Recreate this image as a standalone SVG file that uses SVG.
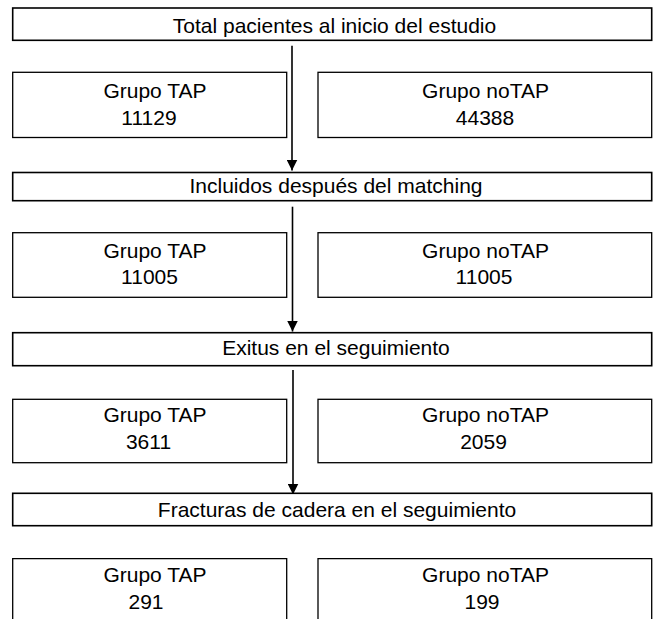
<svg xmlns="http://www.w3.org/2000/svg" width="654" height="619" viewBox="0 0 654 619">
<style>
.hdr{fill:#fff;stroke:#000;stroke-width:1.6}
.box{fill:#fff;stroke:#000;stroke-width:1.3}
text{font-family:"Liberation Sans",Arial,sans-serif;font-size:21px;fill:#000;text-anchor:middle}
.conn{stroke:#000;stroke-width:1.6;fill:none}
</style>
<defs>
<marker id="arr" markerWidth="11" markerHeight="11" refX="11" refY="5.5" orient="auto" markerUnits="userSpaceOnUse">
<path d="M0,0 L11,5.5 L0,11 Z" fill="#000"/>
</marker>
</defs>
<rect width="654" height="619" fill="#fff"/>
<g id="connectors">
<line class="conn" x1="292" y1="45.7" x2="292" y2="170.5" marker-end="url(#arr)"/>
<line class="conn" x1="292.5" y1="206.7" x2="292.5" y2="331.5" marker-end="url(#arr)"/>
<line class="conn" x1="293" y1="370" x2="293" y2="494.5" marker-end="url(#arr)"/>
</g>
<g id="h1"><rect class="hdr" x="12.7" y="8" width="639" height="32.3"/><text x="334.5" y="33">Total pacientes al inicio del estudio</text></g>
<g id="tap1"><rect class="box" x="12.7" y="72.3" width="274" height="65.2"/><text x="155" y="97.7">Grupo TAP</text><text x="149" y="125">11129</text></g>
<g id="notap1"><rect class="box" x="318" y="72.3" width="333.7" height="65.2"/><text x="485.5" y="97.7">Grupo noTAP</text><text x="485" y="125">44388</text></g>
<g id="h2"><rect class="hdr" x="12.7" y="172.5" width="639" height="28.2"/><text x="336" y="193.3">Incluidos después del matching</text></g>
<g id="tap2"><rect class="box" x="12.7" y="232.7" width="274" height="64.6"/><text x="155" y="257.5">Grupo TAP</text><text x="149.5" y="284">11005</text></g>
<g id="notap2"><rect class="box" x="318" y="232.7" width="333.7" height="64.6"/><text x="485.5" y="257.5">Grupo noTAP</text><text x="484" y="284">11005</text></g>
<g id="h3"><rect class="hdr" x="12.7" y="332.7" width="639" height="33"/><text x="336" y="355">Exitus en el seguimiento</text></g>
<g id="tap3"><rect class="box" x="12.7" y="399.3" width="274" height="63.4"/><text x="155" y="422">Grupo TAP</text><text x="148.5" y="449">3611</text></g>
<g id="notap3"><rect class="box" x="318" y="399.3" width="333.7" height="63.4"/><text x="485.5" y="422">Grupo noTAP</text><text x="483.5" y="449">2059</text></g>
<g id="h4"><rect class="hdr" x="12.7" y="493.3" width="639" height="32.4"/><text x="337" y="516.7">Fracturas de cadera en el seguimiento</text></g>
<g id="tap4"><path class="box" d="M12.7,620 V558.7 H286.7 V620"/><text x="155" y="582">Grupo TAP</text><text x="146" y="609">291</text></g>
<g id="notap4"><path class="box" d="M318,620 V558.7 H651.7 V620"/><text x="485.5" y="582">Grupo noTAP</text><text x="482" y="609">199</text></g>
</svg>
